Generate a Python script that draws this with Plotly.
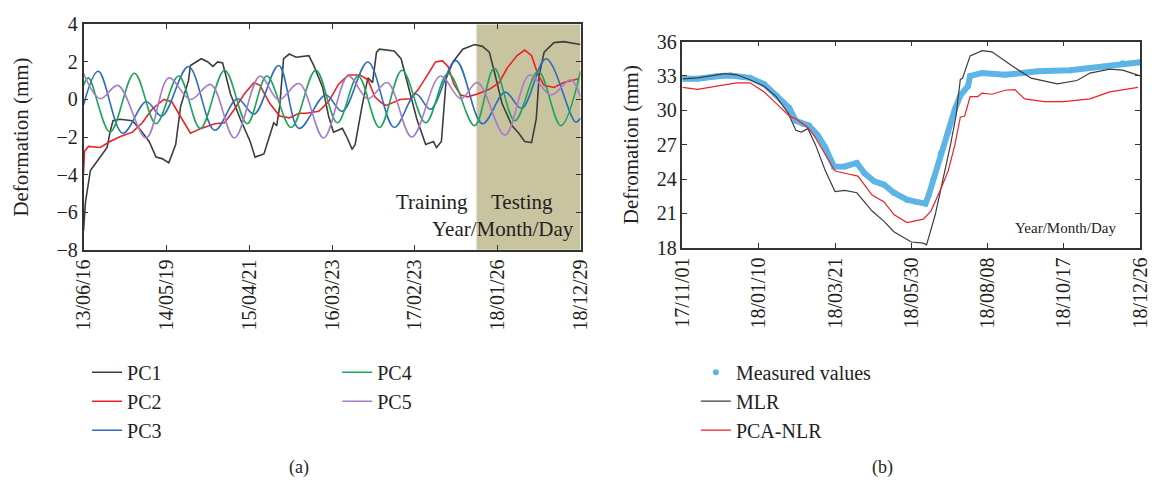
import pandas as pd
import plotly.graph_objects as go

# ---------------- data: panel (a), principal components ----------------
START_A = "2013-06-16"
END_A = "2018-12-29"
TEST_START = "2017-11-01"
tick_a = ["2013-06-16", "2014-05-19", "2015-04-21", "2016-03-23",
          "2017-02-23", "2018-01-26", "2018-12-29"]

pc1_day = [0, 8, 28, 56, 96, 108, 120, 148, 199, 227, 267, 295, 319, 347, 375, 395,
           427, 435, 479, 506, 526, 546, 566, 598, 638, 678, 698, 734, 758, 774, 786,
           798, 814, 837, 865, 905, 917, 937, 973, 997, 1017, 1053, 1073, 1093, 1105,
           1133, 1157, 1176, 1192, 1204, 1264, 1292, 1324, 1356, 1392, 1424, 1436,
           1456, 1476, 1503, 1543, 1591, 1623, 1651, 1671, 1703, 1743, 1771, 1795,
           1823, 1842, 1854, 1874, 1914, 1954, 2022]
pc1_val = [-7.0, -5.46, -3.78, -3.27, -2.56, -1.74, -1.13, -1.05, -1.13, -1.54, -2.24,
           -3.07, -3.15, -3.37, -2.4, -0.37, 1.0, 1.81, 2.17, 2.0, 1.76, 2.0, 1.95, 0.29,
           -1.04, -2.24, -3.07, -2.9, -1.9, -1.24, -1.4, -0.37, 2.17, 2.42, 2.25, 2.33,
           2.33, 1.8, 0.64, -0.88, -1.74, -1.54, -2.05, -2.66, -2.4, -0.37, 1.15, 0.9,
           2.52, 2.68, 2.58, 2.17, 0.64, -1.04, -2.4, -2.24, -2.56, -2.24, 1.15, 2.0,
           2.68, 2.93, 2.83, 2.52, 1.5, -0.22, -1.39, -1.8, -2.24, -2.3, -1.04, 1.3,
           2.52, 3.03, 3.08, 2.93]

pc2_day = [0, 4, 20, 68, 108, 148, 199, 239, 279, 327, 359, 387, 415, 435, 479, 534,
           574, 614, 654, 694, 718, 758, 798, 837, 877, 905, 957, 997, 1037, 1077,
           1125, 1157, 1185, 1216, 1232, 1288, 1328, 1360, 1392, 1432, 1460, 1483,
           1507, 1535, 1563, 1603, 1651, 1691, 1723, 1763, 1795, 1823, 1850, 1874,
           1914, 1954, 2014]
pc2_val = [-3.93, -2.76, -2.5, -2.56, -2.24, -1.99, -1.74, -1.24, -0.52, 0.0, -0.12,
           -0.73, -1.39, -1.8, -1.54, -1.29, -1.24, -0.52, 0.29, 0.9, 0.75, -0.22, -0.88,
           -0.98, -0.73, -0.73, -0.63, -0.12, 0.8, 1.3, 1.3, 1.05, 0.14, -0.22, -0.32,
           0.0, 0.04, 0.5, 1.15, 2.0, 2.07, 1.76, 0.8, 0.24, 0.14, 0.29, 0.54, 0.9, 1.66,
           2.33, 2.63, 2.33, 1.3, 0.75, 0.64, 0.9, 1.1]

pc3_day = [0, 60, 160, 255, 319, 427, 534, 626, 694, 794, 877, 985, 1053, 1157, 1264,
           1352, 1412, 1515, 1623, 1715, 1783, 1882, 2002, 2022]
pc3_val = [-0.3, 1.5, -1.8, -0.12, -0.88, 1.76, -1.64, 0.04, -0.78, 1.81, -1.54, 0.24,
           -0.63, 2.0, -1.49, 0.29, -0.52, 2.07, -1.29, 0.39, -0.47, 2.17, -1.2, -1.0]

pc4_day = [0, 20, 108, 207, 295, 387, 475, 574, 666, 746, 845, 945, 1033, 1117, 1204,
           1296, 1392, 1484, 1591, 1671, 1755, 1850, 1942, 2022]
pc4_val = [0.75, 1.15, -1.74, 1.4, -1.29, 1.25, -1.54, 1.56, -1.29, 1.25, -1.49, 1.56,
           -1.24, 1.25, -1.49, 1.56, -1.24, 1.4, -1.39, 1.66, -1.13, 1.5, -1.39, 1.5]

pc5_day = [0, 68, 140, 255, 347, 435, 518, 614, 718, 794, 877, 977, 1077, 1157, 1236,
           1336, 1452, 1535, 1603, 1715, 1815, 1902, 1982, 2022]
pc5_val = [1.4, 0.04, 0.75, -2.05, 1.15, 0.0, 0.8, -2.05, 1.25, -0.02, 0.85, -2.05,
           1.25, 0.04, 0.9, -2.0, 1.25, 0.04, 0.9, -1.9, 1.3, 0.24, 1.05, 0.14]

# ---------------- data: panel (b), measured vs. model output ----------------
START_B = "2017-11-01"
END_B = "2018-12-26"
tick_b = ["2017-11-01", "2018-01-10", "2018-03-21", "2018-05-30",
          "2018-08-08", "2018-10-17", "2018-12-26"]

meas_day = [0, 14, 32, 44, 62, 75, 86, 98, 104, 111, 116, 124, 131, 139, 149, 160, 167,
            176, 185, 194, 206, 215, 223, 226, 230, 237, 244, 250, 255, 262, 264, 275,
            296, 326, 356, 386, 404, 420]
meas_val = [32.75, 32.75, 32.97, 33.03, 32.83, 32.28, 31.3, 30.2, 29.08, 28.8, 28.67,
            27.83, 26.75, 25.08, 25.1, 25.4, 24.5, 23.8, 23.5, 22.8, 22.2, 22.0, 21.85,
            22.6, 23.9, 26.2, 28.1, 30.1, 31.3, 32.1, 33.0, 33.25, 33.1, 33.4, 33.5, 33.8,
            34.1, 34.2]

mlr_day = [0, 14, 39, 50, 62, 75, 86, 97, 104, 109, 115, 122, 131, 140, 149, 160, 174,
           185, 194, 210, 221, 224, 232, 239, 246, 251, 255, 257, 264, 275, 284, 302,
           320, 344, 362, 374, 392, 404, 420]
mlr_val = [32.75, 32.83, 33.2, 33.1, 32.67, 32.1, 31.2, 29.75, 28.25, 28.1, 28.4, 27.0,
           24.75, 22.9, 23.0, 22.8, 21.2, 20.3, 19.4, 18.5, 18.4, 18.25, 20.9, 23.9, 27.0,
           29.5, 32.7, 32.8, 34.75, 35.2, 35.1, 33.9, 32.8, 32.3, 32.6, 33.25, 33.6, 33.5,
           33.0]

nlr_day = [0, 14, 30, 50, 62, 75, 86, 98, 104, 115, 122, 131, 140, 149, 161, 174, 185,
           194, 206, 221, 228, 237, 244, 250, 255, 259, 264, 271, 275, 284, 296, 305,
           314, 332, 350, 374, 392, 418]
nlr_val = [32.0, 31.83, 32.08, 32.4, 32.4, 31.6, 30.6, 29.5, 29.25, 28.5, 27.6, 26.2,
           24.7, 24.5, 24.25, 22.6, 22.0, 20.9, 20.2, 20.5, 21.2, 23.1, 24.75, 27.0, 29.4,
           29.5, 31.2, 31.2, 31.5, 31.4, 31.75, 31.8, 31.0, 30.75, 30.75, 31.0, 31.6, 32.0]


def dates(start, days):
    return pd.Timestamp(start) + pd.to_timedelta(days, unit="D")


def labels(ticks):
    return [pd.Timestamp(t).strftime("%y/%m/%d") for t in ticks]


INK = "#231f20"
FONT = "Liberation Serif"
AXIS_LINE = "#333333"

fig = go.Figure()

pcs = [("PC1", pc1_day, pc1_val, "#3d3d3d", "linear", "legend"),
       ("PC2", pc2_day, pc2_val, "#ec2127", "linear", "legend"),
       ("PC3", pc3_day, pc3_val, "#2c6cbf", "spline", "legend"),
       ("PC4", pc4_day, pc4_val, "#1ea55b", "spline", "legend2"),
       ("PC5", pc5_day, pc5_val, "#a77dc8", "spline", "legend2")]
for name, d, v, c, shape, leg in pcs:
    fig.add_trace(go.Scatter(x=dates(START_A, d), y=v, name=name, mode="lines",
                             line=dict(color=c, width=1.6, shape=shape, smoothing=1.0),
                             legend=leg, legendgroup=name,
                             xaxis="x", yaxis="y"))

fig.add_trace(go.Scatter(x=dates(START_B, meas_day), y=meas_val, mode="lines",
                         line=dict(color="#5cb5e6", width=6), showlegend=False,
                         xaxis="x2", yaxis="y2", legend="legend3"))
fig.add_trace(go.Scatter(x=dates(START_B, meas_day), y=meas_val, mode="markers",
                         name="Measured values", marker=dict(color="#5cb5e6", size=6),
                         xaxis="x2", yaxis="y2", legend="legend3", legendgroup="m"))
fig.add_trace(go.Scatter(x=dates(START_B, mlr_day), y=mlr_val, mode="lines", name="MLR",
                         line=dict(color="#3d3d3d", width=1.2),
                         xaxis="x2", yaxis="y2", legend="legend3", legendgroup="mlr"))
fig.add_trace(go.Scatter(x=dates(START_B, nlr_day), y=nlr_val, mode="lines",
                         name="PCA-NLR", line=dict(color="#ec2127", width=1.2),
                         xaxis="x2", yaxis="y2", legend="legend3", legendgroup="nlr"))

# testing period shading
fig.add_shape(type="rect", xref="x", yref="y domain", x0=TEST_START, x1=END_A,
              y0=0, y1=1, fillcolor="#c8c4a0", line_width=0, layer="below")

axis_common = dict(showgrid=False, zeroline=False, showline=True, linecolor=AXIS_LINE,
                   linewidth=1.5, mirror="ticks", ticks="inside", ticklen=5,
                   tickcolor=AXIS_LINE, tickwidth=1.3,
                   tickfont=dict(family=FONT, size=20, color=INK))

legend_common = dict(yanchor="top", xanchor="left", font=dict(size=20),
                     traceorder="grouped", tracegroupgap=0, bgcolor="rgba(0,0,0,0)")

fig.update_layout(
    width=1160, height=485, margin=dict(l=0, r=0, t=0, b=0),
    paper_bgcolor="white", plot_bgcolor="white",
    font=dict(family=FONT, color=INK, size=20),
    xaxis=dict(axis_common, domain=[0.0629, 0.5], type="date",
               range=[START_A, END_A], tickvals=tick_a, ticktext=labels(tick_a),
               tickangle=-90, anchor="y"),
    yaxis=dict(axis_common, domain=[0.4845, 0.9711], range=[-8, 4], dtick=2,
               tick0=-8, anchor="x",
               title=dict(text="Deformation (mm)", font=dict(size=21), standoff=22)),
    xaxis2=dict(axis_common, domain=[0.5897, 0.9922], type="date",
                range=[START_B, END_B], tickvals=tick_b, ticktext=labels(tick_b),
                tickangle=-90, anchor="y2"),
    yaxis2=dict(axis_common, domain=[0.4887, 0.9340], range=[18, 36], dtick=3,
                tick0=18, anchor="x2",
                title=dict(text="Defromation (mm)", font=dict(size=21), standoff=12)),
    legend=dict(legend_common, x=0.066, y=0.262),
    legend2=dict(legend_common, x=0.286, y=0.262),
    legend3=dict(legend_common, x=0.6015, y=0.262),
)

notes = [
    dict(text="Training", x=0.4026, y=0.5876, xanchor="right", size=21),
    dict(text="Testing", x=0.4198, y=0.5876, xanchor="left", size=21),
    dict(text="Year/Month/Day", x=0.432, y=0.5299, xanchor="center", size=21),
    dict(text="Year/Month/Day", x=0.9267, y=0.532, xanchor="center", size=15),
    dict(text="(a)", x=0.2526, y=0.014, xanchor="center", size=18),
    dict(text="(b)", x=0.7655, y=0.014, xanchor="center", size=18),
]
for n in notes:
    fig.add_annotation(text=n["text"], x=n["x"], y=n["y"], xref="paper", yref="paper",
                       xanchor=n["xanchor"], yanchor="middle", showarrow=False,
                       font=dict(family=FONT, size=n["size"], color=INK))

fig.write_html("out.html")
